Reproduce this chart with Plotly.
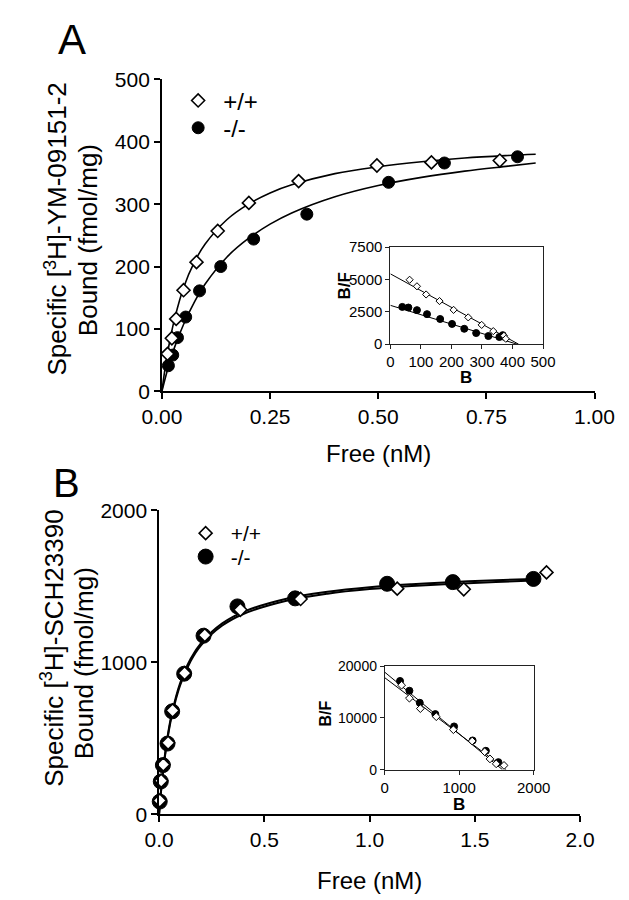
import plotly.graph_objects as go

FONT = "Liberation Sans, Arial, sans-serif"
W, H = 629, 900

# ---------------- Panel A data ----------------
a_wt_free = [0.013, 0.023, 0.033, 0.050, 0.080, 0.129, 0.201, 0.316, 0.497, 0.623, 0.781]
a_wt_bound = [60, 85, 116, 162, 207, 257, 302, 337, 362, 367, 370]
a_ko_free = [0.015, 0.025, 0.036, 0.055, 0.087, 0.136, 0.212, 0.335, 0.524, 0.653, 0.822]
a_ko_bound = [41, 58, 86, 119, 161, 200, 244, 284, 335, 366, 376]

a_curve_free = [0, 0.01, 0.02, 0.03, 0.05, 0.075, 0.1, 0.15, 0.2, 0.25, 0.3, 0.4, 0.5, 0.6, 0.7, 0.8, 0.864]
a_wt_curve = [0, 49, 87, 118, 166, 207, 236, 275, 300, 318, 331, 349, 360, 368, 374, 378, 380]
a_ko_curve = [0, 27, 51, 72, 107, 143, 172, 215, 245, 268, 286, 312, 330, 343, 353, 361, 366]

# inset A (Scatchard)
ia_wt_B = [63, 87, 117, 161, 207, 255, 299, 337, 372, 378]
ia_wt_BF = [4975, 4470, 3840, 3330, 2650, 2070, 1490, 1010, 650, 420]
ia_ko_B = [39, 59, 87, 120, 163, 202, 242, 281, 321, 357, 368]
ia_ko_BF = [2880, 2830, 2630, 2320, 1945, 1565, 1190, 860, 630, 555, 700]
ia_wt_line_B = [0, 420]
ia_wt_line_BF = [5430, 0]
ia_ko_line_B = [0, 415]
ia_ko_line_BF = [3000, 0]

# ---------------- Panel B data ----------------
b_wt_free = [0.003, 0.010, 0.020, 0.043, 0.064, 0.121, 0.217, 0.386, 0.672, 1.131, 1.447, 1.840]
b_wt_bound = [90, 220, 327, 470, 683, 929, 1179, 1346, 1417, 1485, 1481, 1592]
b_ko_free = [0.003, 0.008, 0.018, 0.040, 0.062, 0.119, 0.211, 0.372, 0.646, 1.083, 1.395, 1.778]
b_ko_bound = [83, 215, 323, 465, 677, 925, 1175, 1368, 1421, 1517, 1528, 1549]

b_curve_free = [0, 0.01, 0.02, 0.04, 0.06, 0.1, 0.15, 0.2, 0.3, 0.4, 0.6, 0.8, 1.0, 1.2, 1.4, 1.6, 1.78]
b_wt_curve = [0, 161, 294, 497, 646, 850, 1009, 1114, 1242, 1318, 1404, 1452, 1482, 1502, 1517, 1529, 1538]
b_ko_curve = [0, 166, 301, 508, 659, 864, 1024, 1128, 1256, 1332, 1417, 1464, 1494, 1514, 1529, 1540, 1549]

# inset B (Scatchard)
ib_wt_B = [226, 331, 478, 692, 922, 1174, 1342, 1413, 1497, 1602]
ib_wt_BF = [16350, 13840, 11820, 10250, 7735, 5535, 3460, 2075, 1130, 818]
ib_ko_B = [205, 331, 470, 679, 931, 1180, 1358, 1526]
ib_ko_BF = [17170, 15280, 12950, 10750, 8365, 5650, 3650, 1450]
ib_wt_line_B = [0, 1630]
ib_wt_line_BF = [17800, 0]
ib_ko_line_B = [0, 1580]
ib_ko_line_BF = [18870, 0]

# tick labels
a_xticks = [0, 0.25, 0.5, 0.75, 1.0]
a_yticks = [0, 100, 200, 300, 400, 500]
ia_xticks = [0, 100, 200, 300, 400, 500]
ia_yticks = [0, 2500, 5000, 7500]
b_xticks = [0, 0.5, 1.0, 1.5, 2.0]
b_yticks = [0, 1000, 2000]
ib_xticks = [0, 1000, 2000]
ib_yticks = [0, 10000, 20000]

labels = ["+/+", "-/-"]


def px(x):
    return x / W


def py(y):
    return 1 - y / H


fig = go.Figure()

DIAMOND = dict(symbol="diamond", color="white", line=dict(color="black", width=1.6))
CIRCLE = dict(symbol="circle", color="black", line=dict(color="black", width=1))

# ---- Panel A main ----
fig.add_trace(go.Scatter(x=a_curve_free, y=a_wt_curve, mode="lines", line=dict(color="black", width=1.6, shape="spline"),
                         xaxis="x", yaxis="y", showlegend=False, hoverinfo="skip"))
fig.add_trace(go.Scatter(x=a_curve_free, y=a_ko_curve, mode="lines", line=dict(color="black", width=1.6, shape="spline"),
                         xaxis="x", yaxis="y", showlegend=False, hoverinfo="skip"))
fig.add_trace(go.Scatter(x=a_ko_free, y=a_ko_bound, mode="markers", marker=dict(size=12, **CIRCLE),
                         xaxis="x", yaxis="y", name=labels[1], legend="legend2", cliponaxis=False))
fig.add_trace(go.Scatter(x=a_wt_free, y=a_wt_bound, mode="markers", marker=dict(size=10, **DIAMOND),
                         xaxis="x", yaxis="y", name=labels[0], legend="legend", cliponaxis=False))

# ---- Inset A ----
fig.add_trace(go.Scatter(x=ia_wt_line_B, y=ia_wt_line_BF, mode="lines", line=dict(color="black", width=1),
                         xaxis="x2", yaxis="y2", showlegend=False, hoverinfo="skip"))
fig.add_trace(go.Scatter(x=ia_ko_line_B, y=ia_ko_line_BF, mode="lines", line=dict(color="black", width=1),
                         xaxis="x2", yaxis="y2", showlegend=False, hoverinfo="skip"))
fig.add_trace(go.Scatter(x=ia_ko_B, y=ia_ko_BF, mode="markers", marker=dict(size=7, **CIRCLE),
                         xaxis="x2", yaxis="y2", showlegend=False, cliponaxis=False))
fig.add_trace(go.Scatter(x=ia_wt_B, y=ia_wt_BF, mode="markers",
                         marker=dict(size=5.5, symbol="diamond", color="white", line=dict(color="black", width=1)),
                         xaxis="x2", yaxis="y2", showlegend=False, cliponaxis=False))

# ---- Panel B main ----
fig.add_trace(go.Scatter(x=b_curve_free, y=b_ko_curve, mode="lines", line=dict(color="black", width=2, shape="spline"),
                         xaxis="x3", yaxis="y3", showlegend=False, hoverinfo="skip"))
fig.add_trace(go.Scatter(x=b_curve_free, y=b_wt_curve, mode="lines", line=dict(color="black", width=2, shape="spline"),
                         xaxis="x3", yaxis="y3", showlegend=False, hoverinfo="skip"))
fig.add_trace(go.Scatter(x=b_ko_free, y=b_ko_bound, mode="markers", marker=dict(size=15, **CIRCLE),
                         xaxis="x3", yaxis="y3", name=labels[1], legend="legend4", cliponaxis=False))
fig.add_trace(go.Scatter(x=b_wt_free, y=b_wt_bound, mode="markers", marker=dict(size=10, **DIAMOND),
                         xaxis="x3", yaxis="y3", name=labels[0], legend="legend3", cliponaxis=False))

# ---- Inset B ----
fig.add_trace(go.Scatter(x=ib_wt_line_B, y=ib_wt_line_BF, mode="lines", line=dict(color="black", width=1),
                         xaxis="x4", yaxis="y4", showlegend=False, hoverinfo="skip"))
fig.add_trace(go.Scatter(x=ib_ko_line_B, y=ib_ko_line_BF, mode="lines", line=dict(color="black", width=1),
                         xaxis="x4", yaxis="y4", showlegend=False, hoverinfo="skip"))
fig.add_trace(go.Scatter(x=ib_ko_B, y=ib_ko_BF, mode="markers", marker=dict(size=7, **CIRCLE),
                         xaxis="x4", yaxis="y4", showlegend=False, cliponaxis=False))
fig.add_trace(go.Scatter(x=ib_wt_B, y=ib_wt_BF, mode="markers",
                         marker=dict(size=6, symbol="diamond", color="white", line=dict(color="black", width=1)),
                         xaxis="x4", yaxis="y4", showlegend=False, cliponaxis=False))


def main_axis(domain, rng, ticks, fmt, anchor):
    return dict(domain=domain, range=rng, tickvals=ticks, tickformat=fmt, anchor=anchor,
                showline=True, linecolor="black", linewidth=1.6, ticks="outside", ticklen=6,
                tickwidth=1.6, tickcolor="black", showgrid=False, zeroline=False,
                tickfont=dict(family=FONT, size=21, color="black"), fixedrange=True)


def inset_axis(domain, rng, ticks, anchor, size=15):
    return dict(domain=domain, range=rng, tickvals=ticks, tickformat="d", anchor=anchor,
                showline=True, mirror=True, linecolor="#222", linewidth=1, ticks="outside", ticklen=4,
                tickwidth=1, tickcolor="#222", showgrid=False, zeroline=False,
                tickfont=dict(family=FONT, size=size, color="black"), fixedrange=True)


layout = dict(
    width=W, height=H, margin=dict(l=0, r=0, t=0, b=0),
    paper_bgcolor="white", plot_bgcolor="rgba(0,0,0,0)",
    xaxis=main_axis([px(143), px(605)], [0, 1.0], a_xticks, ".2f", "y"),
    yaxis=main_axis([py(381), py(61)], [0, 500], a_yticks, "d", "x"),
    xaxis2=inset_axis([px(387), px(550)], [0, 500], ia_xticks, "y2"),
    yaxis2=inset_axis([py(332.7), py(233)], [0, 7500], ia_yticks, "x2"),
    xaxis3=main_axis([px(140), px(589.7)], [0, 2.0], b_xticks, ".1f", "y3"),
    yaxis3=main_axis([py(815), py(503.3)], [0, 2000], b_yticks, "d", "x3"),
    xaxis4=inset_axis([px(381), px(540)], [0, 2000], ib_xticks, "y4"),
    yaxis4=inset_axis([py(769.3), py(663.3)], [0, 20000], ib_yticks, "x4", size=14),
    showlegend=True,
)


def leg(xc, yc, size):
    return dict(x=px(xc - 30), y=py(yc), xanchor="left", yanchor="middle", bgcolor="rgba(0,0,0,0)",
                borderwidth=0, itemwidth=40, font=dict(family=FONT, size=size, color="black"))


layout["legend"] = leg(185, 83, 24)
layout["legend2"] = leg(185, 111, 24)
layout["legend3"] = leg(193, 527, 21)
layout["legend4"] = leg(193, 551, 21)

fig.update_layout(**layout)


def ann(text, xc, yc, size, angle=0, bold=False):
    t = f"<b>{text}</b>" if bold else text
    fig.add_annotation(text=t, x=px(xc), y=py(yc), xref="paper", yref="paper", showarrow=False,
                       xanchor="center", yanchor="middle", textangle=angle,
                       font=dict(family=FONT, size=size, color="black"))


ann("A", 47, 20, 42)
ann("B", 41, 475, 40)
ann("Specific [<sup>3</sup>H]-YM-09151-2", 30, 215, 26, -90)
ann("Bound (fmol/mg)", 64, 226, 26, -90)
ann("Free (nM)", 374, 445, 24)
ann("Specific [<sup>3</sup>H]-SCH23390", 26, 645, 26, -90)
ann("Bound (fmol/mg)", 60, 660, 26, -90)
ann("Free (nM)", 365, 883, 24)
ann("B/F", 337, 273, 17, -90, bold=True)
ann("B", 468, 367, 17, bold=True)
ann("B/F", 318, 712, 16, -90, bold=True)
ann("B", 460, 805, 17, bold=True)

fig.write_html("out.html")
